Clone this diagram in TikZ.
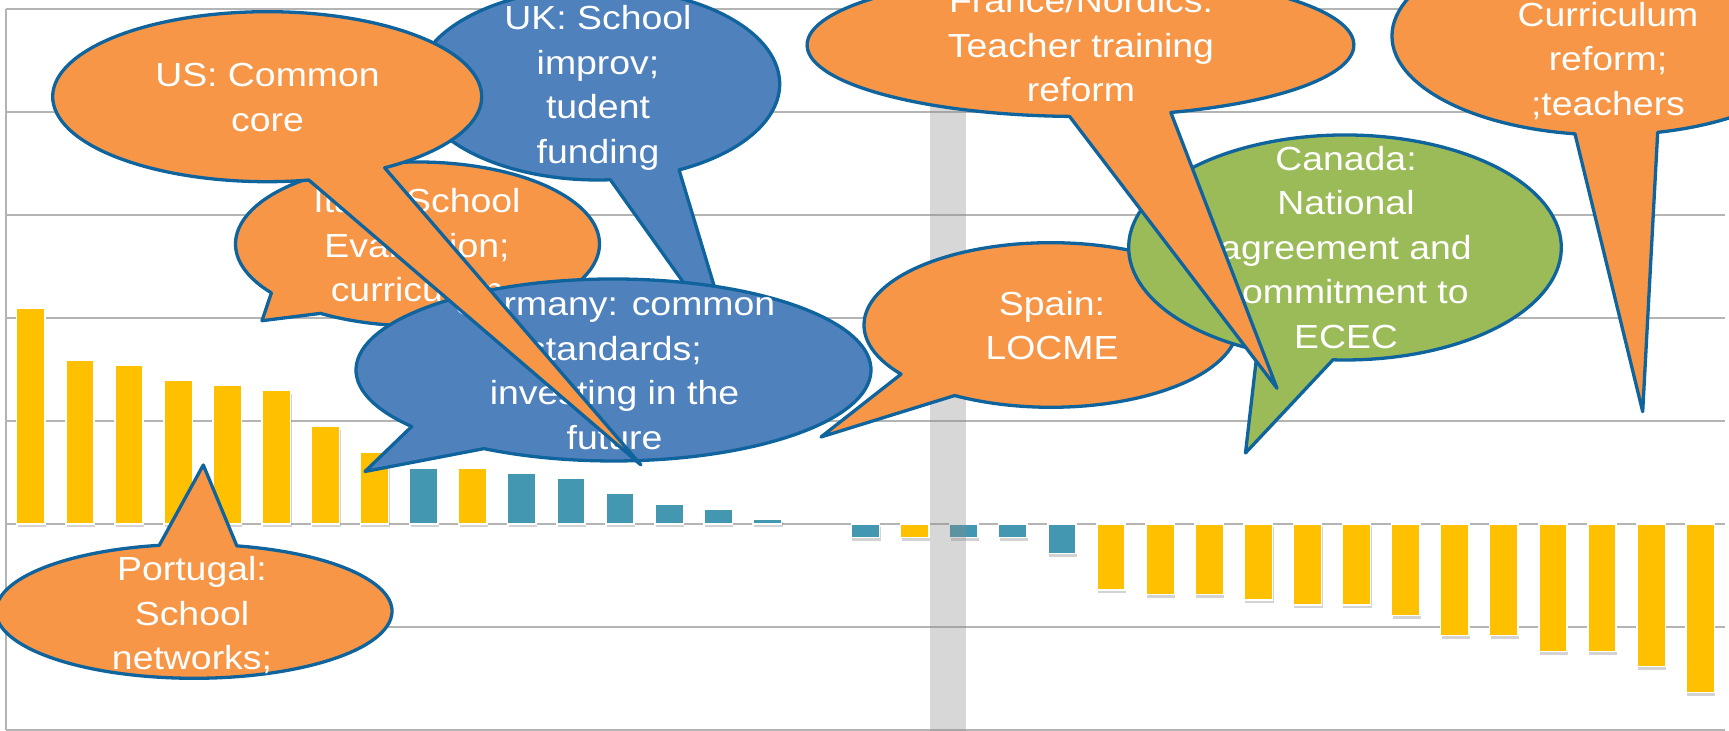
\documentclass[tikz,border=0pt]{standalone}
\usepackage{fontspec}
\setmainfont[FakeStretch=1.12]{Liberation Sans}
\usetikzlibrary{shadows}

\definecolor{baryellow}{RGB}{255,192,0}
\definecolor{barteal}{RGB}{67,151,176}
\definecolor{calloutorange}{RGB}{247,150,70}
\definecolor{calloutblue}{RGB}{79,129,189}
\definecolor{calloutgreen}{RGB}{155,187,89}
\definecolor{calloutline}{RGB}{16,100,158}
\definecolor{gridgray}{RGB}{180,180,180}

\begin{document}
\begin{tikzpicture}[x=0.1mm, y=-0.1mm,
    gridline/.style={gridgray, line width=0.2mm},
    bar/.style={draw=white, line width=0.15mm,
      drop shadow={shadow xshift=0.1mm, shadow yshift=-0.35mm, opacity=0.35}},
    bubble/.style={draw=calloutline, line width=0.33mm, line join=round},
    bubbletext/.style={text=white, align=center, inner sep=0pt,
      font=\fontsize{9.5}{12.66}\selectfont}]

        \useasboundingbox (0,0) rectangle (1729,731);
        \clip (0,0) rectangle (1729,731);

        % grid and axis
        \foreach \i in {0,...,7}
            \draw[gridline] (6,{9.3+102.9*\i}) -- (1725,{9.3+102.9*\i});
        \draw[gridline] (6,9.3) -- (6,729.6);

        % bars
        \foreach \k/\yend/\col in {0/308.3/baryellow, 1/360/baryellow,
            2/365/baryellow, 3/380.3/baryellow, 4/385.7/baryellow,
            5/390.7/baryellow, 6/426.7/baryellow, 7/452.3/baryellow,
            8/468.3/barteal, 9/468.3/baryellow, 10/473.3/barteal,
            11/478.3/barteal, 12/493.7/barteal, 13/504/barteal,
            14/509/barteal, 15/519/barteal, 17/537.7/barteal,
            18/537.7/baryellow, 19/537.7/barteal, 20/537.7/barteal,
            21/553.3/barteal, 22/590/baryellow, 23/594.3/baryellow,
            24/594.3/baryellow, 25/600/baryellow, 26/605/baryellow,
            27/605/baryellow, 28/615.3/baryellow, 29/635.7/baryellow,
            30/635.7/baryellow, 31/651.3/baryellow, 32/651.3/baryellow,
            33/666.7/baryellow, 34/692.3/baryellow}
            \draw[bar, fill=\col] ({16.7+49.1*\k},523.8) rectangle ++(28.3,{\yend-523.8});

        % grey band
        \fill[black!45, opacity=0.35] (930,0) rectangle (966,731);

        % Portugal
        \coordinate (pt) at (194,611.3);
        \coordinate (pt tip) at (203.3,465);
        \draw[bubble, fill=calloutorange] (pt) ++(282.5:198 and 67)
            arc[start angle=282.5, end angle=619.9, x radius=198, y radius=67] -- (pt tip) -- cycle;
        \node[bubbletext] (pt text) at (192,615.3) {Portugal:\\School\\networks;};

        % UK
        \coordinate (uk) at (598,84);
        \coordinate (uk tip) at (735,355);
        \draw[bubble, fill=calloutblue] (uk) ++(86.1:181.7 and 96)
            arc[start angle=86.1, end angle=423.5, x radius=181.7, y radius=96] -- (uk tip) -- cycle;
        \node[bubbletext] (uk text) at (598,87.8) {UK: School\\improv;\\tudent\\funding};

        % Italy
        \coordinate (it) at (417.5,244);
        \coordinate (it tip) at (262,320.7);
        \draw[bubble, fill=calloutorange] (it) ++(143.4:182 and 82)
            arc[start angle=143.4, end angle=482.2, x radius=182, y radius=82] -- (it tip) -- cycle;
        \node[bubbletext] (it text) at (417,245.3) {Italy: School\\Evaluation;\\curriculum};

        % Germany
        \coordinate (de) at (613.5,370);
        \coordinate (de tip) at (365,471.5);
        \draw[bubble, fill=calloutblue] (de) ++(141.6:257.5 and 91)
            arc[start angle=141.6, end angle=480.2, x radius=257.5, y radius=91] -- (de tip) -- cycle;
        \node[bubbletext] (de text) at (614.5,371.1) {Germany: common\\standards;\\investing in the\\future};

        % US
        \coordinate (us) at (267.2,96.7);
        \coordinate (us tip) at (641,465);
        \draw[bubble, fill=calloutorange] (us) ++(78.8:214.5 and 85)
            arc[start angle=78.8, end angle=416.8, x radius=214.5, y radius=85] -- (us tip) -- cycle;
        \node[bubbletext] (us text) at (267.5,97.6) {US: Common\\core};

        % Spain
        \coordinate (es) at (1051,325);
        \coordinate (es tip) at (821,437);
        \draw[bubble, fill=calloutorange] (es) ++(143.3:187 and 82.3)
            arc[start angle=143.3, end angle=481, x radius=187, y radius=82.3] -- (es tip) -- cycle;
        \node[bubbletext] (es text) at (1052,325.8) {Spain:\\LOCME};

        % Canada
        \coordinate (ca) at (1345,247.5);
        \coordinate (ca tip) at (1245.5,453);
        \draw[bubble, fill=calloutgreen] (ca) ++(113.9:216.3 and 112.5)
            arc[start angle=113.9, end angle=453.2, x radius=216.3, y radius=112.5] -- (ca tip) -- cycle;
        \node[bubbletext] (ca text) at (1346,247.3) {Canada:\\National\\agreement and\\commitment to\\ECEC};

        % France/Nordics
        \coordinate (fr) at (1080.5,45);
        \coordinate (fr tip) at (1277,388.3);
        \draw[bubble, fill=calloutorange] (fr) ++(92.3:273.4 and 71.5)
            arc[start angle=92.3, end angle=430.7, x radius=273.4, y radius=71.5] -- (fr tip) -- cycle;
        \node[bubbletext] (fr text) at (1081,45.3) {France/Nordics:\\Teacher training\\reform};

        % curriculum
        \coordinate (cu) at (1608,36);
        \coordinate (cu tip) at (1642.7,411.7);
        \draw[bubble, fill=calloutorange] (cu) ++(98.8:216 and 99)
            arc[start angle=98.8, end angle=436.7, x radius=216, y radius=99] -- (cu tip) -- cycle;
        \node[bubbletext] (cu text) at (1608,60.8) {Curriculum\\reform;\\;teachers};

    \end{tikzpicture}
\end{document}
